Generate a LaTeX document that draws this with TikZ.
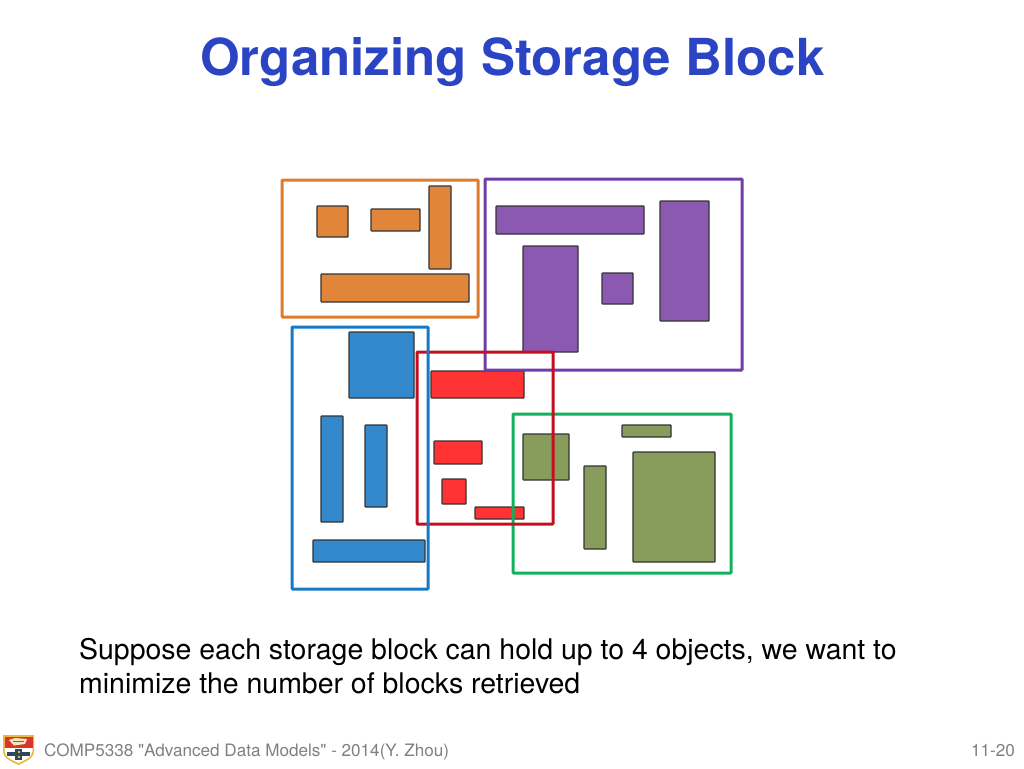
\documentclass[tikz,border=0pt]{standalone}
\usepackage{fontspec}
\setmainfont{TeX Gyre Heros}
\newfontfamily\plainfont{TeX Gyre Heros}
\definecolor{cor}{HTML}{E0853A}
\definecolor{cpu}{HTML}{8C59B0}
\definecolor{cbl}{HTML}{3488CC}
\definecolor{cre}{HTML}{FF3333}
\definecolor{cgr}{HTML}{889C5C}
\definecolor{bor}{HTML}{DD7C2A}
\definecolor{bpu}{HTML}{6F3EA8}
\definecolor{bbl}{HTML}{1479C6}
\definecolor{bre}{HTML}{C40F1F}
\definecolor{bgr}{HTML}{12B05C}
\definecolor{titleblue}{HTML}{2B44C4}
\definecolor{foot}{HTML}{808080}
\definecolor{shield}{HTML}{D8362C}
\definecolor{shieldg}{HTML}{E8B93C}
\definecolor{shieldn}{HTML}{2D4A5A}
\tikzset{
 obj/.style={draw=black!80,line width=1.2pt,rounded corners=0.6pt},
 group/.style={line width=3pt,rounded corners=0.8pt},
 txt/.style={inner sep=0pt,anchor=base west},
}
\begin{document}
\begin{tikzpicture}[x=1pt,y=-1pt]
\useasboundingbox (0,0) rectangle (1024,768);
\fill[white] (0,0) rectangle (1024,768);
% objects
\foreach \a/\b/\c/\d in {317/206/348/237, 371/209/420/231, 429/186/451/269, 321/274/469/302}
  \draw[obj,fill=cor] (\a,\b) rectangle (\c,\d);
\foreach \a/\b/\c/\d in {496/206/644/234, 523/246/578/352, 602/273/633/304, 660/201/709/321}
  \draw[obj,fill=cpu] (\a,\b) rectangle (\c,\d);
\foreach \a/\b/\c/\d in {349/332/414/398, 321/416/343/522, 365/425/387/507, 313/540/425/562}
  \draw[obj,fill=cbl] (\a,\b) rectangle (\c,\d);
\foreach \a/\b/\c/\d in {431/371/524/398, 434/441/482/464, 442/479/466/504, 475/507/524/519}
  \draw[obj,fill=cre] (\a,\b) rectangle (\c,\d);
\foreach \a/\b/\c/\d in {523/434/569/480, 584/466/606/549, 622/425/671/437, 633/452/715/562}
  \draw[obj,fill=cgr] (\a,\b) rectangle (\c,\d);
% groups
\draw[group,draw=bor] (282,180) rectangle (478,317);
\draw[group,draw=bgr] (513,414) rectangle (731,573);
\draw[group,draw=bpu] (485,179) rectangle (742,370);
\draw[group,draw=bre] (417,352) rectangle (553,524);
\draw[group,draw=bbl] (292,327) rectangle (428,589);
% text
\node[txt,text=titleblue,font=\fontsize{51}{51}\selectfont\bfseries] (title) at (200,75.5) {Organizing Storage Block};
\node[txt,font=\fontsize{28.45}{28.45}\selectfont] (line1) at (79,659) {Suppose each storage block can hold up to 4 objects, we want to};
\node[txt,font=\fontsize{28.45}{28.45}\selectfont] (line2) at (79,693) {minimize the number of blocks retrieved};
\node[txt,text=foot,font=\plainfont\fontsize{17.1}{17.1}\selectfont] (footer) at (44,756) {COMP5338 "Advanced Data Models" - 2014(Y. Zhou)};
\node[inner sep=0pt,anchor=base east,text=foot,font=\fontsize{17.1}{17.1}\selectfont] (page) at (1015,756) {11-20};
% crest
\fill[shieldg] (3,735) -- (34,735) -- (34,751) .. controls (34,759) and (24,762) .. (18.5,765) .. controls (13,762) and (3,759) .. (3,751) -- cycle;
\fill[shield] (4.5,736.5) rectangle (32.5,748);
\fill[white] (4.5,748) -- (32.5,748) -- (32.5,751) .. controls (32.5,758) and (23,760.5) .. (18.5,763) .. controls (14,760.5) and (4.5,758) .. (4.5,751) -- cycle;
\fill[shieldg!35!white] (9,740) -- (15,738) -- (27,739) -- (25,744) -- (14,745.5) -- cycle;
\fill[shield] (13,741) rectangle (24,742);
\fill[shieldn] (7,752) rectangle (30,756);
\fill[shieldn] (15,749) rectangle (22,760);
\fill[shieldg] (17.5,751) rectangle (19.5,753);
\fill[shieldg] (17.5,755.5) rectangle (19.5,757.5);
\end{tikzpicture}
\end{document}
